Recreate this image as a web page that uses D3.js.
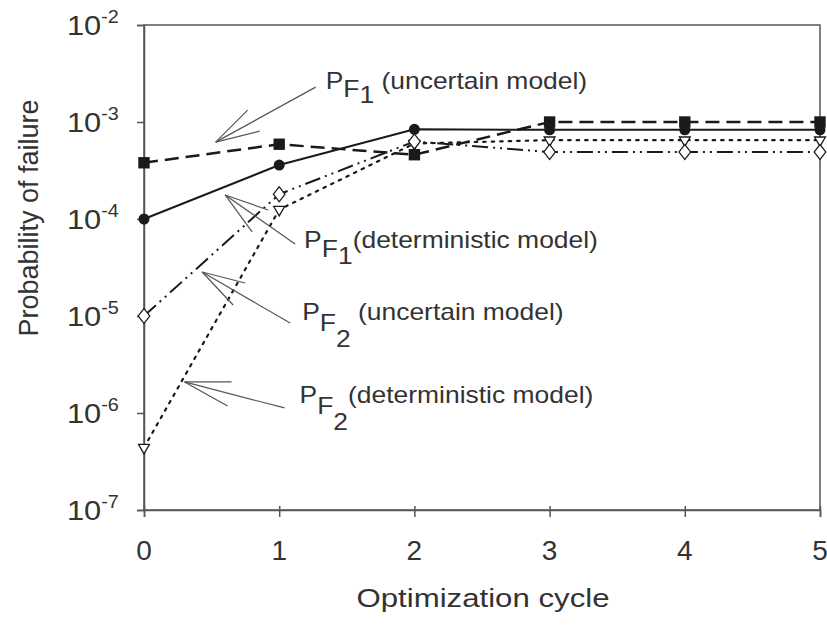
<!DOCTYPE html>
<html>
<head>
<meta charset="utf-8">
<script src="https://cdn.jsdelivr.net/npm/d3@7"></script>
<style>
  html, body { margin: 0; padding: 0; background: #fff; }
  svg { display: block; }
</style>
</head>
<body>
<svg id="chart" width="827" height="630"></svg>
<script>
var cycles = [0, 1, 2, 3, 4, 5];
var pf1Uncertain = [3.8e-4, 5.9e-4, 4.6e-4, 1.0e-3, 1.0e-3, 1.0e-3];
var pf1Deterministic = [1.0e-4, 3.6e-4, 8.4e-4, 8.3e-4, 8.3e-4, 8.3e-4];
var pf2Uncertain = [1.0e-5, 1.8e-4, 6.3e-4, 4.9e-4, 4.9e-4, 4.9e-4];
var pf2Deterministic = [4.4e-7, 1.25e-4, 6.0e-4, 6.5e-4, 6.5e-4, 6.5e-4];
var yTickExponents = [-2, -3, -4, -5, -6, -7];

var ink = '#1a1a1a';
var axisColor = '#555';
var textColor = '#333';
var font = 'Liberation Sans, Arial, sans-serif';

var svg = d3.select('#chart');
var margin = { top: 25, right: 7, bottom: 120, left: 144 };
var width = 827, height = 630;

var x = d3.scaleLinear().domain([0, 5]).range([margin.left, width - margin.right]);
var y = d3.scaleLog().domain([1e-7, 1e-2]).range([height - margin.bottom, margin.top]);

// frame
svg.append('rect')
  .attr('x', x(0)).attr('y', y(1e-2))
  .attr('width', x(5) - x(0)).attr('height', y(1e-7) - y(1e-2))
  .attr('fill', 'none').attr('stroke', axisColor).attr('stroke-width', 1.5);

// x axis
var xAxis = d3.axisBottom(x).tickValues(cycles).tickSize(7).tickFormat('');
var gx = svg.append('g').attr('transform', 'translate(0,' + y(1e-7) + ')').call(xAxis);
gx.select('.domain').attr('stroke', axisColor).attr('stroke-width', 1.5);
gx.selectAll('.tick line').attr('stroke', axisColor).attr('stroke-width', 1.5).attr('y1', -4);

// y axis
var yAxis = d3.axisLeft(y).tickValues(yTickExponents.map(function (e) { return Math.pow(10, e); }))
  .tickSize(7).tickFormat('');
var gy = svg.append('g').attr('transform', 'translate(' + x(0) + ',0)').call(yAxis);
gy.select('.domain').attr('stroke', axisColor).attr('stroke-width', 1.5);
gy.selectAll('.tick line').attr('stroke', axisColor).attr('stroke-width', 1.5);

function stretchedText(px, py, sx, size) {
  return svg.append('g')
    .attr('transform', 'translate(' + px + ',' + py + ') scale(' + sx + ',1)')
    .append('text')
    .attr('font-family', font)
    .attr('font-size', size)
    .attr('fill', textColor);
}

// x tick labels
cycles.forEach(function (c) {
  stretchedText(x(c), y(1e-7) + 50, 1.0, 28).attr('text-anchor', 'middle').text(c);
});

// y tick labels
yTickExponents.forEach(function (e) {
  var t = stretchedText(67, y(Math.pow(10, e)) + 10, 1.1, 28);
  t.append('tspan').text('10');
  t.append('tspan').attr('font-size', 18).attr('dy', -12).text(String(e));
});

// axis titles
stretchedText(483, 607, 1.2, 26).attr('text-anchor', 'middle').text('Optimization cycle');
svg.append('text')
  .attr('transform', 'translate(38,218) rotate(-90)')
  .attr('text-anchor', 'middle')
  .attr('font-family', font).attr('font-size', 27)
  .attr('fill', textColor)
  .text('Probability of failure');

// series
var series = [
  { values: pf2Deterministic, dash: '2.5,6', width: 2.2, marker: 'triangle' },
  { values: pf2Uncertain, dash: '16,5,2,5,2,5', width: 2, marker: 'diamond' },
  { values: pf1Deterministic, dash: null, width: 2, marker: 'circle' },
  { values: pf1Uncertain, dash: '14,7', width: 2.5, marker: 'square' }
];

var line = d3.line()
  .x(function (d) { return x(d.c); })
  .y(function (d) { return y(d.v); });

series.forEach(function (s) {
  var pts = cycles.map(function (c, i) { return { c: c, v: s.values[i] }; });
  svg.append('path')
    .datum(pts)
    .attr('d', line)
    .attr('fill', 'none')
    .attr('stroke', ink)
    .attr('stroke-width', s.width)
    .attr('stroke-dasharray', s.dash)
    .attr('stroke-linecap', s.marker === 'triangle' ? 'round' : 'butt');
});

var symbols = {
  square: { type: d3.symbolSquare, size: 130, fill: ink },
  circle: { type: d3.symbolCircle, size: 95, fill: ink },
  diamond: { type: d3.symbolDiamond2, size: 120, fill: '#fff' },
  triangle: { type: d3.symbolTriangle2, size: 85, fill: '#fff' }
};

series.forEach(function (s) {
  var sym = symbols[s.marker];
  cycles.forEach(function (c, i) {
    var rot = s.marker === 'triangle' ? ' rotate(180)' : '';
    var sc = s.marker === 'diamond' ? ' scale(0.85,1.1)' : '';
    svg.append('path')
      .attr('d', d3.symbol().type(sym.type).size(sym.size)())
      .attr('transform', 'translate(' + x(c) + ',' + y(s.values[i]) + ')' + rot + sc)
      .attr('fill', sym.fill)
      .attr('stroke', ink)
      .attr('stroke-width', s.marker === 'diamond' || s.marker === 'triangle' ? 1.3 : 0);
  });
});

// annotations: tip in data space, the rest as pixel offsets from the tip
var annotations = [
  { tip: [0.53, 6.2e-4], lines: [[100, -55], [32, -32], [44, -11]], label: [110, -53], idx: '1', gap: ' ', sub: [8, 6] },
  { tip: [0.60, 1.77e-4], lines: [[70, 49], [43, 15], [27, 37]], label: [79, 53], idx: '1', gap: '', sub: [9, 7] },
  { tip: [0.43, 2.84e-5], lines: [[88, 51], [43, 11], [31, 33]], label: [100, 48], idx: '2', gap: ' ', sub: [11, 16] },
  { tip: [0.30, 2.09e-6], lines: [[100, 26], [47, 0], [43, 24]], label: [115, 21], idx: '2', gap: '', sub: [11, 16] }
];
var annText = ['(uncertain model)', '(deterministic model)', '(uncertain model)', '(deterministic model)'];

annotations.forEach(function (a, k) {
  var tx = x(a.tip[0]), ty = y(a.tip[1]);
  a.lines.forEach(function (o) {
    svg.append('line')
      .attr('x1', tx).attr('y1', ty)
      .attr('x2', tx + o[0]).attr('y2', ty + o[1])
      .attr('stroke', axisColor).attr('stroke-width', 1.2);
  });
  var t = stretchedText(tx + a.label[0], ty + a.label[1], 1.15, 23);
  t.append('tspan').text('P');
  t.append('tspan').attr('dy', a.sub[0]).text('F');
  t.append('tspan').attr('dy', a.sub[1]).text(a.idx);
  t.append('tspan').attr('dy', -(a.sub[0] + a.sub[1])).text(a.gap + annText[k]);
});
</script>
</body>
</html>
